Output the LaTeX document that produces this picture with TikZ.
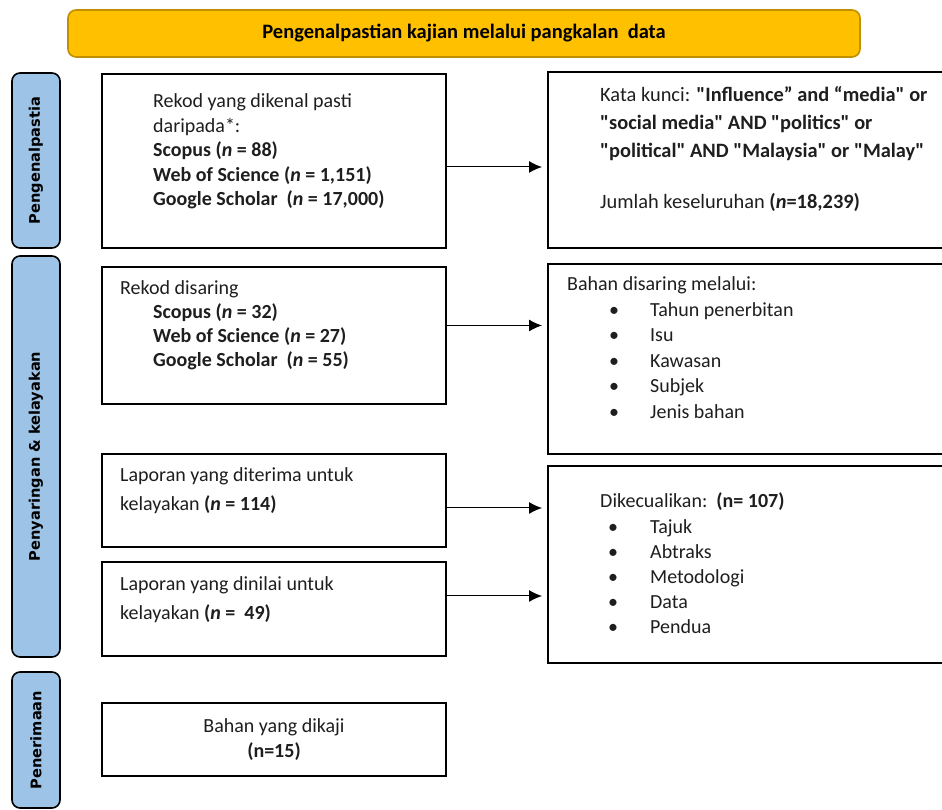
\documentclass[tikz,border=0pt]{standalone}
\usepackage{fontspec}
\setmainfont{Carlito}[Ligatures=TeXOff]
\newfontfamily\sidefont{DejaVu Sans}
\usetikzlibrary{arrows.meta}
\definecolor{headfill}{HTML}{FFC000}
\definecolor{headline}{HTML}{BF9000}
\definecolor{sidefill}{HTML}{9DC3E6}
\definecolor{txtgray}{HTML}{1E1E1E}

\begin{document}
\begin{tikzpicture}[-,>={Latex[length=13pt,width=12pt]},x=1pt,y=1pt,
  box node/.style={rectangle,draw,line width=1.6pt,inner sep=0pt,outer sep=0pt,anchor=north west},
  side node/.style={rectangle,rounded corners=8pt,draw,line width=1.6pt,fill=sidefill,rotate=90,
    minimum height=48pt,inner sep=0pt,font=\sidefont\bfseries\fontsize{14.6}{17}\selectfont},
  head node/.style={rectangle,rounded corners=8pt,draw=headline,line width=1.6pt,fill=headfill,
    minimum width=792pt,minimum height=47pt,font=\bfseries\fontsize{20.5}{24}\selectfont},
  txt node/.style={anchor=base west,align=left,inner sep=0pt,text=txtgray,font=\fontsize{20}{24.5}\selectfont}]
  \useasboundingbox (0,0) rectangle (942,810);

  \node[head node] (h) at (464,776.5) {Pengenalpastian kajian melalui pangkalan\ \ data};

  \node[side node,minimum width=175pt] (s1) at (36,649.5) {Pengenalpastia};
  \node[side node,minimum width=401pt] (s2) at (36,353.5) {Penyaringan \& kelayakan};
  \node[side node,minimum width=136pt] (s3) at (36,70) {Penerimaan};

  \node[box node,minimum width=344pt,minimum height=174pt] (1) at (102,736) {};
  \node[box node,minimum width=420pt,minimum height=176pt] (2) at (548,738) {};
  \node[box node,minimum width=344pt,minimum height=137pt] (3) at (102,543) {};
  \node[box node,minimum width=420pt,minimum height=190pt] (4) at (548,546) {};
  \node[box node,minimum width=344pt,minimum height=93pt]  (5) at (102,356) {};
  \node[box node,minimum width=344pt,minimum height=94pt]  (6) at (102,248) {};
  \node[box node,minimum width=420pt,minimum height=197pt] (7) at (548,344) {};
  \node[box node,minimum width=344pt,minimum height=73pt]  (8) at (102,107) {};

  % text placed by the baseline of its last line
  \node[txt node] (1t) at (153,604) {Rekod yang dikenal pasti\\daripada*:\\
    \textbf{Scopus (\textit{n} = 88)}\\
    \textbf{Web of Science (\textit{n} = 1,151)}\\
    \textbf{Google Scholar\ \ (\textit{n} = 17,000)}};
  \node[txt node,font=\fontsize{20.4}{28}\selectfont] (2t) at (600,601)
    {Kata kunci: \textbf{"Influence” and “media" or}\\
    \textbf{"social media" AND "politics" or}\\
    \textbf{"political" AND "Malaysia" or "Malay"}\\[23pt]
    Jumlah keseluruhan \textbf{(\textit{n}=18,239)}};
  \node[txt node,font=\fontsize{20}{24}\selectfont] (3t) at (120,443) {Rekod disaring\\
    \hspace*{33pt}\textbf{Scopus (\textit{n} = 32)}\\
    \hspace*{33pt}\textbf{Web of Science (\textit{n} = 27)}\\
    \hspace*{33pt}\textbf{Google Scholar\ \ (\textit{n} = 55)}};
  \node[txt node,font=\fontsize{20}{25.5}\selectfont] (4t) at (567,391.5) {Bahan disaring melalui:\\
    \hspace*{29pt}\makebox[36pt]{\textbullet}\hspace*{18pt}Tahun penerbitan\\
    \hspace*{29pt}\makebox[36pt]{\textbullet}\hspace*{18pt}Isu\\
    \hspace*{29pt}\makebox[36pt]{\textbullet}\hspace*{18pt}Kawasan\\
    \hspace*{29pt}\makebox[36pt]{\textbullet}\hspace*{18pt}Subjek\\
    \hspace*{29pt}\makebox[36pt]{\textbullet}\hspace*{18pt}Jenis bahan};
  \node[txt node,font=\fontsize{20}{29}\selectfont] (5t) at (120,299)
    {Laporan yang diterima untuk\\kelayakan \textbf{(\textit{n} = 114)}};
  \node[txt node,font=\fontsize{20}{29}\selectfont] (6t) at (120,190)
    {Laporan yang dinilai untuk\\kelayakan \textbf{(\textit{n} =\ \ 49)}};
  \node[txt node,font=\fontsize{20}{25.2}\selectfont] (7t) at (595,176)
    {\hspace*{5pt}Dikecualikan:\ \ \textbf{(n= 107)}\\
    \makebox[36pt]{\textbullet}\hspace*{19pt}Tajuk\\
    \makebox[36pt]{\textbullet}\hspace*{19pt}Abtraks\\
    \makebox[36pt]{\textbullet}\hspace*{19pt}Metodologi\\
    \makebox[36pt]{\textbullet}\hspace*{19pt}Data\\
    \makebox[36pt]{\textbullet}\hspace*{19pt}Pendua};
  \node[txt node,anchor=base,align=center,font=\fontsize{20}{25}\selectfont] (8t) at (274,52)
    {Bahan yang dikaji\\\textbf{(n=15)}};

  \path[->,line width=1pt,shorten >=6pt]
    ([yshift=-6pt]1.east) edge ([yshift=-6pt]1.east -| 2.west)
    ([yshift=10pt]3.east) edge ([yshift=10pt]3.east -| 4.west)
    ([yshift=-7.5pt]5.east) edge ([yshift=-7.5pt]5.east -| 7.west)
    ([yshift=13pt]6.east) edge ([yshift=13pt]6.east -| 7.west);
\end{tikzpicture}
\end{document}
